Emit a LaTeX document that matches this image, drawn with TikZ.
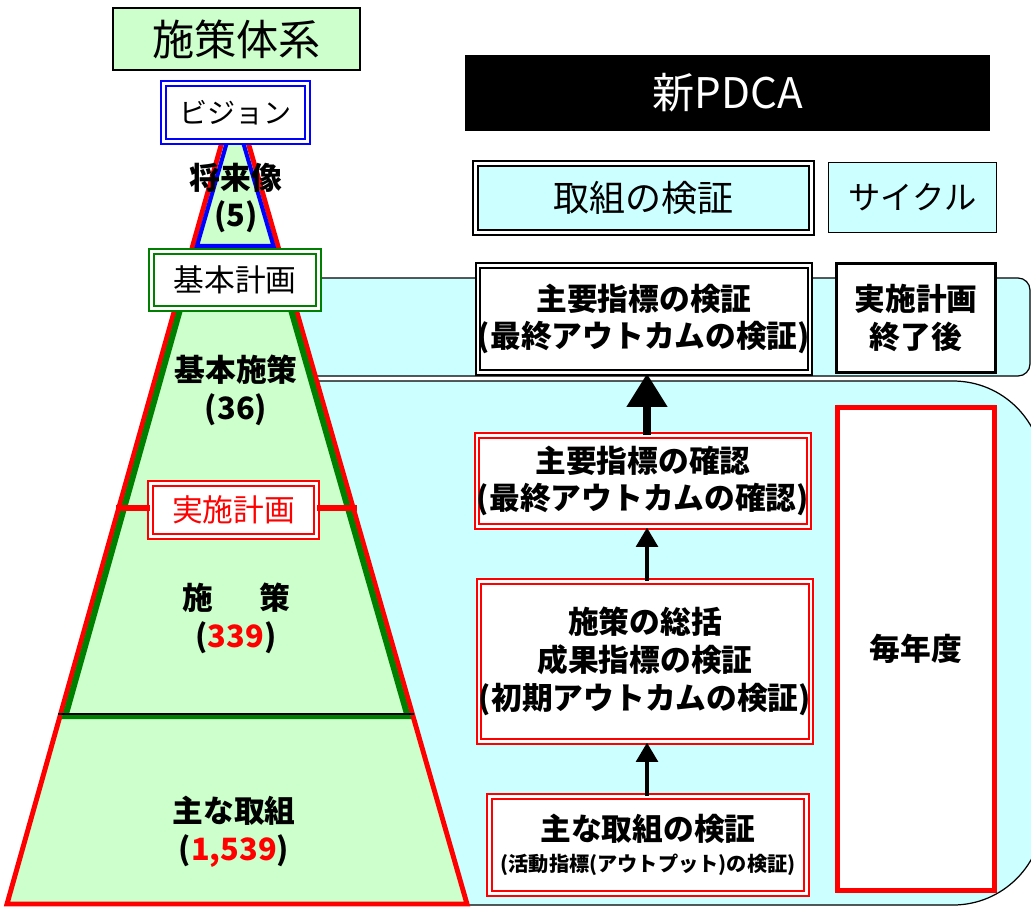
\documentclass[tikz,border=0pt]{standalone}
\usepackage{fontspec}
\setmainfont{Noto Sans CJK JP}
\usetikzlibrary{arrows.meta}
\definecolor{paleGreen}{HTML}{CCFFCC}
\definecolor{paleCyan}{HTML}{CCFFFF}
\definecolor{leafGreen}{HTML}{008000}
\newcommand{\pxu}{0.02cm}
\newcommand{\redtxt}[1]{\textcolor{red}{#1}}
\tikzset{
  frame/.style 2 args={rectangle, inner sep=0pt, align=center,
    minimum width=#1*\pxu, minimum height=#2*\pxu},
  dbl/.style={draw=#1, line width=1.1pt, double=white, double distance=1.6pt},
  headfont/.style={font=\fontsize{#1}{#1}\selectfont},
  boldfont/.style={align=center, font=\bfseries\fontsize{17.5pt}{21.5pt}\selectfont},
  bigarrow/.style={line width=5pt, -{Triangle[width=22pt,length=19pt]}},
  smallarrow/.style={line width=2.8pt, -{Triangle[width=12pt,length=11pt]}}
}
\begin{document}
\begin{tikzpicture}[x=\pxu, y=-\pxu]
\useasboundingbox (0,0) rectangle (1031,907);
% bands behind the pyramid
\draw[fill=paleCyan, line width=0.7pt, rounded corners=0.24cm] (250,278) rectangle (1030,376);
\draw[fill=paleCyan, line width=0.7pt, rounded corners=1.8cm] (200,381) rectangle (1043,905);
% pyramid
\draw[red, line width=2.8pt, fill=paleGreen] (222,142) -- (248,142) -- (467,904) -- (7,904) -- cycle;
\draw[leafGreen, line width=3.4pt] (182.7,300) -- (65.4,716) -- (407.6,716) -- (288.2,300);
\draw[line width=1pt] (58,714) -- (414,714);
\draw[blue, line width=2.3pt, fill=paleGreen] (227,142) -- (243,142) -- (273.5,246) -- (197,246) -- cycle;

\node[frame={247}{62}, draw, line width=1.1pt, fill=paleGreen, headfont=24pt] (system) at (236.5,39) {施策体系};
\node[frame={144}{58}, dbl=blue, fill=white, headfont=16pt] (vision) at (235.5,112.5) {ビジョン};
\node[boldfont] (future) at (236,198) {将来像\\(5)};
\node[frame={167}{57}, dbl=leafGreen, fill=white, headfont=17.5pt] (basicplan) at (235,280) {基本計画};
\node[boldfont] (basicpolicy) at (236,390) {基本施策\\(36)};
\node[frame={166}{53}, dbl=red, fill=white, text=red, headfont=17.5pt] (execplan) at (233.5,510) {実施計画};
\coordinate (barleft) at (116,508);
\coordinate (barright) at (357,508);
\draw[red, line width=3.4pt] (barleft) -- (barleft -| execplan.west);
\draw[red, line width=3.4pt] (barright -| execplan.east) -- (barright);
\node[boldfont] (measures) at (236,618) {施\hspace{1.5em}策\\(\redtxt{339})};
\node[boldfont] (actions) at (234,832) {主な取組\\(\redtxt{1,539})};

\node[frame={525}{76}, fill=black, text=white, headfont=24pt] (pdca) at (727.5,93) {新PDCA};
\node[frame={336}{69}, dbl=black, fill=paleCyan, headfont=20.5pt] (verifyhead) at (643.5,198) {取組の検証};
\node[frame={168}{70}, draw, line width=0.8pt, fill=paleCyan, headfont=18.4pt] (cyclehead) at (912.5,197.5) {サイクル};
\node[frame={329}{107}, dbl=black, fill=white, boldfont] (finalcheck) at (644,319) {主要指標の検証\\(最終アウトカムの検証)};
\node[frame={159}{109}, draw, line width=1.7pt, fill=white, boldfont] (afterplan) at (916,318) {実施計画\\終了後};
\node[frame={327}{91}, dbl=red, fill=white, boldfont] (kpiconfirm) at (643,481) {主要指標の確認\\(最終アウトカムの確認)};
\node[frame={323}{160}, dbl=red, fill=white, boldfont] (summary) at (645,661.5) {施策の総括\\成果指標の検証\\(初期アウトカムの検証)};
\node[frame={317}{97}, dbl=red, fill=white, boldfont] (mainaction) at (648,845) {主な取組の検証\\[-4pt]{\fontsize{11.5pt}{14pt}\selectfont (活動指標(アウトプット)の検証)}};
\node[frame={157}{483}, draw=red, line width=2.8pt, fill=white, boldfont] (yearly) at (916,649) {毎年度};

\coordinate (flow) at (647,0);
\draw[bigarrow] (kpiconfirm.north -| flow) -- (finalcheck.south -| flow);
\draw[smallarrow] (summary.north -| flow) -- (kpiconfirm.south -| flow);
\draw[smallarrow] (mainaction.north -| flow) -- (summary.south -| flow);
\end{tikzpicture}
\end{document}
